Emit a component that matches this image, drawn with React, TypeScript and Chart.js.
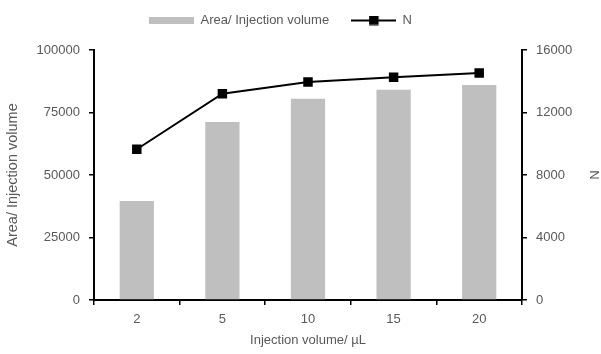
import React, { useEffect, useRef } from "react";
import { Chart, registerables } from "chart.js";

Chart.register(...registerables);

const categories = ["2", "5", "10", "15", "20"];
const areaValues = [39600, 71200, 80500, 84100, 86000];
const nValues = [9650, 13200, 13950, 14250, 14530];
const leftTicks = [0, 25000, 50000, 75000, 100000];
const rightTicks = [0, 4000, 8000, 12000, 16000];

const FONT = "'Liberation Sans', Arial, sans-serif";
const TEXT = "#595959";
const BAR = "#BFBFBF";

function makeBarSwatch() {
  const c = document.createElement("canvas");
  c.width = 45;
  c.height = 7;
  const ctx = c.getContext("2d")!;
  ctx.fillStyle = BAR;
  ctx.fillRect(0, 0, 45, 7);
  return c;
}

function makeLineSwatch() {
  const c = document.createElement("canvas");
  c.width = 45;
  c.height = 10;
  const ctx = c.getContext("2d")!;
  ctx.fillStyle = "#000";
  ctx.fillRect(0, 4, 45, 2);
  ctx.fillRect(18, 0, 9.5, 9.5);
  return c;
}

export default function App() {
  const ref = useRef<HTMLCanvasElement>(null);

  useEffect(() => {
    document.body.style.margin = "0";
    const barImg = makeBarSwatch();
    const lineImg = makeLineSwatch();

    const legendShift = {
      id: "legendShift",
      beforeInit(chart: any) {
        const orig = chart.legend.fit;
        chart.legend.fit = function () {
          orig.call(this);
          this.height = 50;
        };
      },
      afterLayout(chart: any) {
        chart.legend.top -= 8;
        chart.legend.right -= 40;
      },
    };

    const plain = (v: any) => String(v);

    const chart = new Chart(ref.current!, {
      type: "bar",
      data: {
        labels: categories,
        datasets: [
          {
            type: "bar",
            label: "Area/ Injection volume",
            data: areaValues,
            backgroundColor: BAR,
            borderWidth: 0,
            barPercentage: 0.4,
            categoryPercentage: 1.0,
            yAxisID: "y",
            order: 1,
          },
          {
            type: "line",
            label: "N",
            data: nValues,
            borderColor: "#000",
            backgroundColor: "#000",
            borderWidth: 2,
            pointStyle: "rect",
            pointRadius: 6.7,
            pointBorderWidth: 0,
            pointBackgroundColor: "#000",
            yAxisID: "y1",
            order: 0,
          } as any,
        ],
      },
      options: {
        responsive: false,
        animation: false,
        layout: { padding: 0 },
        plugins: {
          tooltip: { enabled: false },
          legend: {
            position: "top",
            labels: {
              usePointStyle: true,
              pointStyleWidth: 45,
              padding: 22,
              color: TEXT,
              font: { family: FONT, size: 13 },
              generateLabels: (ch: any) => {
                const items = (Chart.defaults as any).plugins.legend.labels.generateLabels(ch);
                items.sort((a: any, b: any) => a.datasetIndex - b.datasetIndex);
                return items.map((it: any) => ({
                  ...it,
                  pointStyle: it.datasetIndex === 0 ? barImg : lineImg,
                  lineWidth: 0,
                }));
              },
            },
          },
        },
        scales: {
          x: {
            type: "category",
            offset: true,
            grid: {
              display: true,
              offset: true,
              drawOnChartArea: false,
              drawTicks: true,
              tickLength: 5,
              color: "#000",
              lineWidth: 1.5,
            },
            border: { display: true, color: "#000", width: 2 },
            ticks: { color: TEXT, font: { family: FONT, size: 13 }, padding: 7 },
            title: {
              display: true,
              text: "Injection volume/ µL",
              color: TEXT,
              font: { family: FONT, size: 13 },
              padding: { top: 0, bottom: 6 },
            },
            afterFit: (s: any) => {
              s.height = 54;
            },
          },
          y: {
            position: "left",
            min: 0,
            max: 100000,
            afterBuildTicks: (s: any) => {
              s.ticks = leftTicks.map((v) => ({ value: v }));
            },
            grid: {
              display: true,
              drawOnChartArea: false,
              tickLength: 5,
              color: "#000",
              lineWidth: 1.5,
            },
            border: { display: true, color: "#000", width: 2 },
            ticks: { color: TEXT, font: { family: FONT, size: 13 }, padding: 9, callback: plain },
            title: {
              display: true,
              text: "Area/ Injection volume",
              color: TEXT,
              font: { family: FONT, size: 14.5 },
              padding: { top: 4, bottom: 0 },
            },
            afterFit: (s: any) => {
              s.width = 94;
            },
          },
          y1: {
            position: "right",
            min: 0,
            max: 16000,
            afterBuildTicks: (s: any) => {
              s.ticks = rightTicks.map((v) => ({ value: v }));
            },
            grid: {
              display: true,
              drawOnChartArea: false,
              tickLength: 5,
              color: "#000",
              lineWidth: 1.5,
            },
            border: { display: true, color: "#000", width: 2 },
            ticks: { color: TEXT, font: { family: FONT, size: 13 }, padding: 9, callback: plain },
            title: {
              display: true,
              text: "N",
              color: TEXT,
              font: { family: FONT, size: 13 },
              padding: { top: 0, bottom: 0 },
            },
            afterFit: (s: any) => {
              s.width = 79;
            },
          },
        },
      },
      plugins: [legendShift],
    });

    return () => chart.destroy();
  }, []);

  return (
    <div style={{ width: 601, height: 354 }}>
      <canvas ref={ref} width={601} height={354} />
    </div>
  );
}
